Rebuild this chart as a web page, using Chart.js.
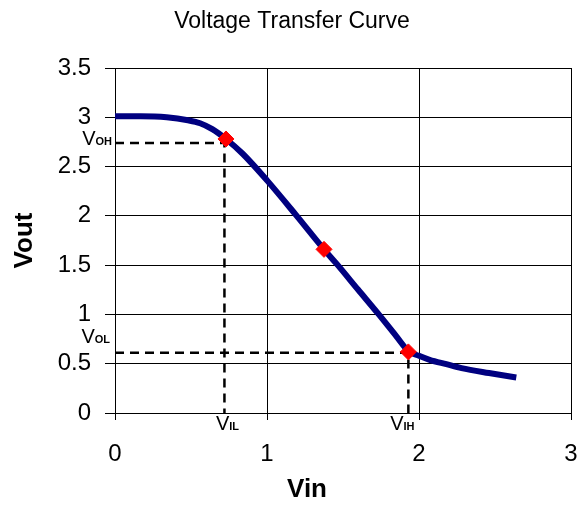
<!DOCTYPE html>
<html><head><meta charset="utf-8">
<script src="https://cdn.jsdelivr.net/npm/chart.js@4/dist/chart.umd.min.js"></script>
<style>html,body{margin:0;padding:0;background:#fff;}#wrap{width:580px;height:506px;}</style>
</head><body><div id="wrap"><canvas id="c" width="580" height="506"></canvas></div>
<script>
const titleText = 'Voltage Transfer Curve';
const xAxisTitle = 'Vin';
const yAxisTitle = 'Vout';
const vin  = [0, 0.17, 0.34, 0.48, 0.56, 0.64, 0.73, 0.84, 1.0, 1.19, 1.375, 1.46, 1.6, 1.73, 1.85, 1.93, 2.0, 2.07, 2.18, 2.28, 2.46, 2.64];
const vout = [3.01, 3.01, 3.0, 2.97, 2.94, 2.88, 2.78, 2.63, 2.36, 2.01, 1.66, 1.51, 1.25, 1.01, 0.78, 0.63, 0.58, 0.54, 0.495, 0.455, 0.405, 0.36];
const markerVin  = [0.73, 1.375, 1.93];
const markerVout = [2.78, 1.66, 0.62];
const vilValue = 0.72, vihValue = 1.93, vohValue = 2.74, volValue = 0.61;
const xTicks = [0, 1, 2, 3];
const yTicks = [0, 0.5, 1, 1.5, 2, 2.5, 3, 3.5];

const FAM = '"Liberation Sans", Arial, sans-serif';
const curvePts = vin.map((x, i) => ({x, y: vout[i]}));
const markerPts = markerVin.map((x, i) => ({x, y: markerVout[i]}));
const ohPath = [{x: 0, y: vohValue}, {x: vilValue, y: vohValue}, {x: vilValue, y: 0}];
const olPath = [{x: 0, y: volValue}, {x: vihValue, y: volValue}, {x: vihValue, y: 0}];

function drawV(ctx, sub, x, baseline, align) {
  ctx.save();
  ctx.fillStyle = '#000';
  ctx.textBaseline = 'alphabetic';
  ctx.textAlign = 'left';
  const fV = '20px ' + FAM, fS = 'bold 11px ' + FAM;
  ctx.font = fV; const wV = ctx.measureText('V').width;
  ctx.font = fS; const wS = ctx.measureText(sub).width;
  const total = wV + wS;
  let x0 = align === 'right' ? x - total : (align === 'center' ? x - total / 2 : x);
  ctx.font = fV; ctx.fillText('V', x0, baseline);
  ctx.font = fS; ctx.fillText(sub, x0 + wV, baseline);
  ctx.restore();
}

const labelPlugin = {
  id: 'labels',
  afterDraw(chart) {
    const {ctx, chartArea, scales} = chart;
    const xs = scales.x, ys = scales.y;
    ctx.save();
    ctx.fillStyle = '#000';
    ctx.font = '23px ' + FAM;
    ctx.textAlign = 'center';
    ctx.textBaseline = 'middle';
    ctx.fillText(titleText, 292, 22);
    ctx.font = 'bold 26px ' + FAM;
    ctx.fillText(xAxisTitle, 307, 490);
    ctx.restore();
    drawV(ctx, 'OH', chartArea.left - 3, ys.getPixelForValue(vohValue) + 2, 'right');
    drawV(ctx, 'OL', chartArea.left - 5, ys.getPixelForValue(volValue) - 10, 'right');
    drawV(ctx, 'IL', xs.getPixelForValue(vilValue) + 3, chartArea.bottom + 17, 'center');
    drawV(ctx, 'IH', xs.getPixelForValue(vihValue) - 6, chartArea.bottom + 17, 'center');
  }
};

new Chart(document.getElementById('c'), {
  type: 'scatter',
  data: {
    datasets: [
      {data: markerPts, showLine: false, pointStyle: 'rectRot', pointRadius: 8, backgroundColor: '#ff0000', borderColor: '#ff0000', borderWidth: 1, order: 0},
      {data: curvePts, showLine: true, borderColor: '#000080', borderWidth: 6, pointRadius: 0, cubicInterpolationMode: 'monotone', order: 1},
      {data: ohPath, showLine: true, borderColor: '#000', borderWidth: 2.5, borderDash: [9, 6], pointRadius: 0, order: 2},
      {data: olPath, showLine: true, borderColor: '#000', borderWidth: 2.5, borderDash: [9, 6], pointRadius: 0, order: 2}
    ]
  },
  options: {
    responsive: false, animation: false, devicePixelRatio: 1,
    layout: {padding: {top: 68, right: 8, left: 0, bottom: 0}},
    plugins: {legend: {display: false}, tooltip: {enabled: false}, title: {display: false}},
    scales: {
      x: {
        type: 'linear', min: 0, max: 3,
        afterFit: s => { s.height = 93; s.paddingLeft = 0; s.paddingRight = 0; },
        afterBuildTicks: s => { s.ticks = xTicks.map(v => ({value: v})); },
        ticks: {font: {family: FAM, size: 24}, color: '#000', padding: 20, maxRotation: 0, callback: v => String(v)},
        grid: {color: '#000', lineWidth: 1, tickLength: 7},
        border: {display: true, color: '#000', width: 1},
        title: {display: false}
      },
      y: {
        type: 'linear', min: 0, max: 3.5,
        afterFit: s => { s.width = 115; s.paddingTop = 0; s.paddingBottom = 0; },
        afterBuildTicks: s => { s.ticks = yTicks.map(v => ({value: v})); },
        ticks: {font: {family: FAM, size: 24}, color: '#000', padding: 14, callback: v => String(v)},
        grid: {color: '#000', lineWidth: 1, tickLength: 10},
        border: {display: true, color: '#000', width: 1},
        title: {display: true, text: yAxisTitle, color: '#000', font: {family: FAM, size: 26, weight: 'bold'}, padding: {top: 9, bottom: 0}}
      }
    }
  },
  plugins: [labelPlugin]
});
</script></body></html>
